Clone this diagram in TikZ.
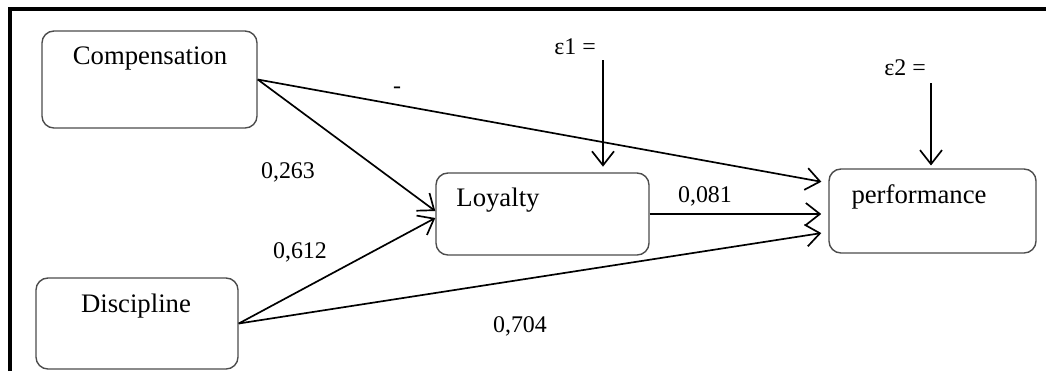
\documentclass[tikz,border=0pt]{standalone}
\usepackage{fontspec}
\setmainfont{Liberation Serif}
\usetikzlibrary{arrows.meta,calc}

\tikzset{
  box/.style={draw=black!70, line width=1pt, rounded corners=3mm, fill=white},
  boxtext/.style={font=\fontsize{19}{22}\selectfont, inner sep=0pt},
  coef/.style={font=\fontsize{17}{20}\selectfont, inner sep=0pt},
  link/.style={line width=1.2pt, -{Straight Barb[length=3.5mm,width=5.5mm,line width=1.2pt]}}
}

\begin{document}
\begin{tikzpicture}[x=0.025cm, y=-0.025cm]
        \useasboundingbox (0,0) rectangle (1046,371);

        % frame
        \draw[line width=2.2pt] (10,371) -- (10,9) -- (1046,9);

        % boxes
        \node[box, minimum width=5.375cm, minimum height=2.425cm] (comp) at (149.5,79.5) {};
        \node[box, minimum width=5.05cm, minimum height=2.275cm] (disc) at (137,323.5) {};
        \node[box, minimum width=5.325cm, minimum height=2.05cm] (loyal) at (542.5,214) {};
        \node[box, minimum width=5.175cm, minimum height=2.1cm] (perf) at (932.5,211) {};

        % box texts
        \node[boxtext] (compt) at (150,58) {Compensation};
        \node[boxtext] (disct) at (136,306) {Discipline};
        \node[boxtext] (loyalt) at (498,200) {Loyalty};
        \node[boxtext] (perft) at (919,197) {performance};

        % error terms
        \node[coef] (eps1) at (575,47) {ε1 =};
        \node[coef] (eps2) at (905,68) {ε2 =};
        \coordinate (e1top) at (603,60);
        \coordinate (e2top) at (931,83);
        \draw[link, shorten >=4pt] (e1top) -- (e1top |- loyal.north);
        \draw[link, shorten >=2pt] (e2top) -- (e2top |- perf.north);

        % paths
        \draw[link] (comp.east) -- ($(loyal.west)+(0,-3)$);
        \draw[link, shorten >=5pt] (comp.east) -- ($(perf.west)+(0,-28)$);
        \draw[link] (disc.east) -- ($(loyal.west)+(0,4)$);
        \draw[link, shorten >=5pt] (disc.east) -- ($(perf.west)+(0,21)$);
        \draw[link, shorten >=5pt] (loyal.east) -- (loyal.east -| perf.west);

        % coefficients
        \node[coef] (c0) at (397,90) {-};
        \node[coef] (c1) at (288,172) {0,263};
        \node[coef] (c2) at (300,252) {0,612};
        \node[coef] (c3) at (705,196) {0,081};
        \node[coef] (c4) at (520,326) {0,704};

\end{tikzpicture}
\end{document}
